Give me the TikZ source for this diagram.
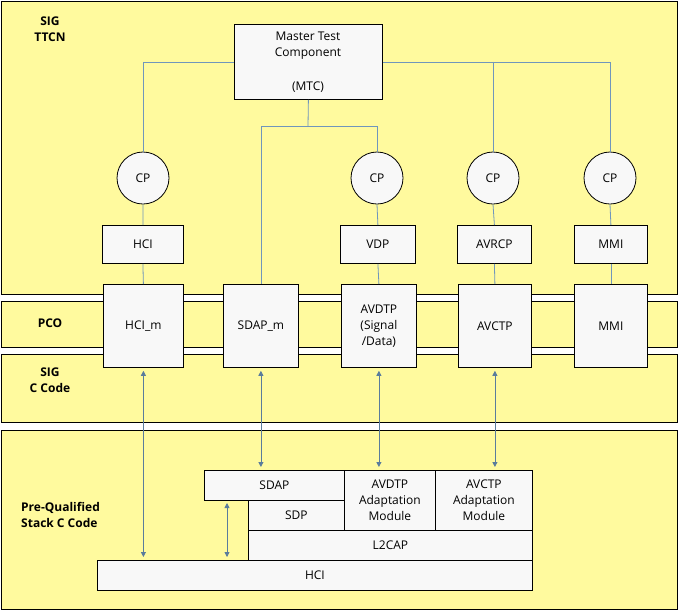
\documentclass[tikz,border=0pt]{standalone}
\usepackage{fontspec}
\setmainfont{Open Sans}
\usetikzlibrary{arrows.meta}
\definecolor{panelyellow}{HTML}{FFFA9E}
\definecolor{boxfill}{HTML}{F8F8F8}
\definecolor{linkblue}{HTML}{7096BC}
\definecolor{arrowblue}{HTML}{5A7C9C}
\tikzset{
  panel/.style={draw=black, fill=panelyellow, line width=0.8pt},
  plabel/.style={font=\fontsize{12}{16}\selectfont\bfseries, align=center, inner sep=0pt},
  blk/.style={draw=black, fill=boxfill, line width=0.8pt, font=\fontsize{12}{16}\selectfont, align=center, inner sep=0pt, anchor=north west},
  cpnode/.style={circle, draw=black, fill=boxfill, line width=0.8pt, minimum size=52pt, inner sep=0pt, font=\fontsize{12}{14}\selectfont},
  link/.style={draw=linkblue, line width=0.8pt},
  dbl/.style={draw=arrowblue, line width=0.8pt, {Triangle[width=5pt,length=5pt]}-{Triangle[width=5pt,length=5pt]}, shorten <=3pt, shorten >=3pt}
}
\begin{document}
\begin{tikzpicture}[x=1pt,y=-1pt]
\useasboundingbox (0,0) rectangle (679,611);
\fill[white] (0,0) rectangle (679,611);
% panels
\draw[panel] (1.5,1.5) rectangle (677,294);
\draw[panel] (1.5,301) rectangle (677,347);
\draw[panel] (1.5,354) rectangle (677,422);
\draw[panel] (1.5,430) rectangle (677,609);
\node[plabel] (lttcn) at (50,29) {SIG\\TTCN};
\node[plabel] (lpco) at (50,323) {PCO};
\node[plabel] (lccode) at (50,380.5) {SIG\\C Code};
\node[plabel, align=left, anchor=west] (lpq) at (21,515) {Pre-Qualified\\Stack C Code};
% MTC
\node[blk, minimum width=148pt, minimum height=75pt] (mtc) at (234,24) {};
\node[font=\fontsize{12}{16}\selectfont, align=center, inner sep=0pt] (mtctxt) at (308,46) {Master Test\\Component};
\node[font=\fontsize{12}{16}\selectfont, inner sep=0pt] (mtcabbr) at (308,87) {(MTC)};
% CP circles
\node[cpnode] (cp1) at (143,178) {CP};
\node[cpnode] (cp2) at (377,178) {CP};
\node[cpnode] (cp3) at (493,178) {CP};
\node[cpnode] (cp4) at (610,178) {CP};
% small boxes
\node[blk, minimum width=81pt, minimum height=38pt] (hci) at (102,225) {HCI};
\node[blk, minimum width=75pt, minimum height=38pt] (vdp) at (340,225) {VDP};
\node[blk, minimum width=74pt, minimum height=38pt] (avrcp) at (457,225) {AVRCP};
\node[blk, minimum width=73pt, minimum height=38pt] (mmi) at (574,225) {MMI};
% connectors MTC
\draw[link] (mtc.west) -| (cp1.north);
\draw[link] (mtc.east) -| (cp4.north);
\coordinate (br3) at (cp3.north |- mtc.east);
\draw[link] (br3) -- (cp3.north);
\coordinate (jn) at (308,126);
\draw[link] (mtc.south) -- (jn);
\draw[link] (jn) -| (cp2.north);
% PCO boxes
\node[blk, minimum width=80pt, minimum height=83pt] (hcim) at (103,284) {HCI\_m};
\node[blk, minimum width=75pt, minimum height=83pt] (sdapm) at (223,284) {SDAP\_m};
\node[blk, minimum width=75pt, minimum height=83pt] (avdtp) at (341,284) {AVDTP\\(Signal\\/Data)};
\node[blk, minimum width=73pt, minimum height=83pt] (avctp) at (458,284) {AVCTP};
\node[blk, minimum width=73pt, minimum height=83pt] (mmim) at (574,284) {MMI};
\draw[link] (jn) -| (sdapm.north);
\draw[link] (cp1.south) -- (hci.north);
\draw[link] (hci.south) -- (hcim.north);
\draw[link] (cp2.south) -- (vdp.north);
\draw[link] (vdp.south) -- (avdtp.north);
\draw[link] (cp3.south) -- (avrcp.north);
\draw[link] (avrcp.south) -- (avctp.north);
\draw[link] (cp4.south) -- (mmi.north);
\draw[link] (mmi.south) -- (mmim.north);
% stack
\node[blk, minimum width=140pt, minimum height=30pt] (sdap) at (204,470) {SDAP};
\node[blk, minimum width=96pt, minimum height=30pt] (sdp) at (248,500) {SDP};
\node[blk, minimum width=91pt, minimum height=60pt] (avdtpam) at (344,470) {AVDTP\\Adaptation\\Module};
\node[blk, minimum width=97pt, minimum height=60pt] (avctpam) at (435,470) {AVCTP\\Adaptation\\Module};
\node[blk, minimum width=284pt, minimum height=30pt] (l2cap) at (248,530) {L2CAP};
\node[blk, minimum width=435pt, minimum height=30pt] (hcib) at (97,560) {HCI};
% arrows
\draw[dbl] (hcim.south) -- (hcim.south |- hcib.north);
\draw[dbl] (sdapm.south) -- (sdapm.south |- sdap.north);
\draw[dbl] (avdtp.south) -- (avdtp.south |- avdtpam.north);
\draw[dbl] (avctp.south) -- (avctp.south |- avctpam.north);
\coordinate (ba) at (227,500);
\coordinate (bb) at (227,560);
\draw[dbl] (ba) -- (bb);
\end{tikzpicture}
\end{document}
